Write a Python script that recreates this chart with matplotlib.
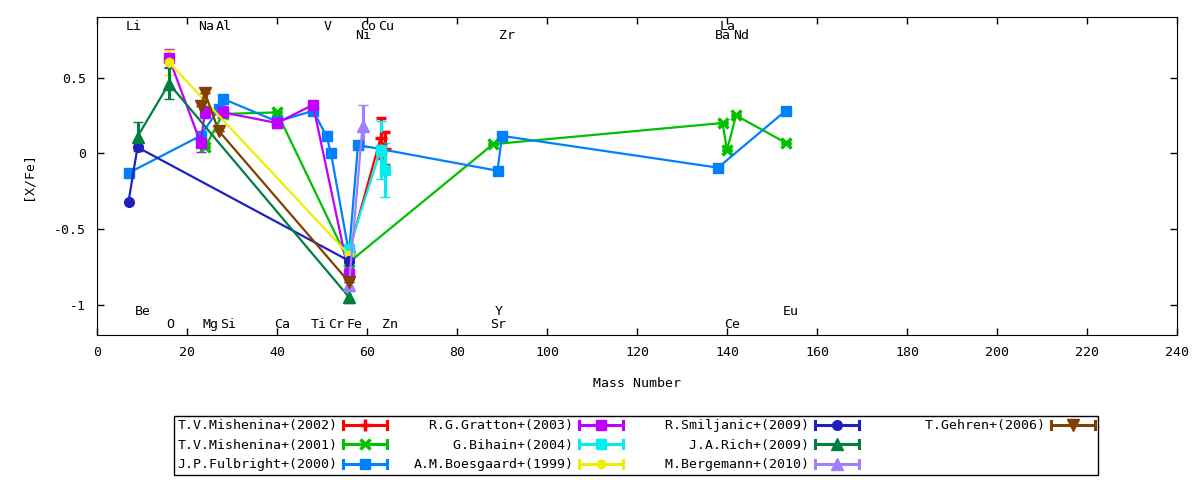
import numpy as np
import matplotlib.pyplot as plt
from matplotlib import ticker
from matplotlib.lines import Line2D
from matplotlib.legend_handler import HandlerBase

plt.rcParams['font.family'] = 'DejaVu Sans Mono'
plt.rcParams['font.size'] = 9.5
plt.rcParams['axes.unicode_minus'] = False

# element symbols and the mass number they are plotted at
elements = ['Li', 'Be', 'O', 'Na', 'Mg', 'Al', 'Si', 'Ca', 'Ti', 'V', 'Cr', 'Fe',
            'Ni', 'Co', 'Cu', 'Zn', 'Sr', 'Y', 'Zr', 'Ba', 'La', 'Ce', 'Nd', 'Eu']
mass_number = [7, 9, 16, 23, 24, 27, 28, 40, 48, 51, 52, 56,
               58, 59, 63, 64, 88, 89, 90, 138, 139, 140, 142, 153]

# [X/Fe] (and [Fe/H] at Fe) per study
mishenina02_el = ['Fe', 'Cu', 'Zn']
mishenina02_val = [-0.65, 0.10, 0.03]
mishenina02_err = [0.0, 0.13, 0.11]

mishenina01_el = ['Mg', 'Si', 'Ca', 'Fe', 'Sr', 'La', 'Ce', 'Nd', 'Eu']
mishenina01_val = [0.04, 0.26, 0.27, -0.72, 0.06, 0.20, 0.02, 0.25, 0.07]
mishenina01_err = [0, 0, 0, 0, 0, 0, 0, 0, 0]

fulbright_el = ['Li', 'Na', 'Al', 'Si', 'Ca', 'Ti', 'V', 'Cr', 'Fe', 'Ni', 'Y', 'Zr', 'Ba', 'Eu']
fulbright_val = [-0.13, 0.115, 0.29, 0.36, 0.21, 0.28, 0.115, 0.0, -0.66, 0.055,
                 -0.115, 0.115, -0.095, 0.28]
fulbright_err = [0, 0, 0, 0, 0, 0, 0, 0, 0, 0, 0, 0, 0, 0]

gratton_el = ['O', 'Na', 'Mg', 'Si', 'Ca', 'Ti', 'Fe']
gratton_val = [0.63, 0.07, 0.27, 0.27, 0.20, 0.32, -0.80]
gratton_err = [0.06, 0.06, 0.04, 0.04, 0.03, 0.02, 0.04]

bihain_el = ['Fe', 'Cu', 'Zn']
bihain_val = [-0.63, 0.02, -0.11]
bihain_err = [0.02, 0.19, 0.18]

boesgaard_el = ['O', 'Fe']
boesgaard_val = [0.60, -0.67]
boesgaard_err = [0.08, 0.0]

smiljanic_el = ['Li', 'Be', 'Fe']
smiljanic_val = [-0.32, 0.04, -0.71]
smiljanic_err = [0, 0, 0]

rich_el = ['Be', 'O', 'Fe']
rich_val = [0.11, 0.46, -0.95]
rich_err = [0.095, 0.10, 0.04]

bergemann_el = ['Fe', 'Co']
bergemann_val = [-0.87, 0.18]
bergemann_err = [0.03, 0.14]

gehren_el = ['Na', 'Mg', 'Al', 'Fe']
gehren_val = [0.31, 0.40, 0.15, -0.85]
gehren_err = [0, 0, 0, 0]

labels = ['T.V.Mishenina+(2002)', 'T.V.Mishenina+(2001)', 'J.P.Fulbright+(2000)',
          'R.G.Gratton+(2003)', 'G.Bihain+(2004)', 'A.M.Boesgaard+(1999)',
          'R.Smiljanic+(2009)', 'J.A.Rich+(2009)', 'M.Bergemann+(2010)',
          'T.Gehren+(2006)']

series = [
    (mishenina02_el, mishenina02_val, mishenina02_err),
    (mishenina01_el, mishenina01_val, mishenina01_err),
    (fulbright_el, fulbright_val, fulbright_err),
    (gratton_el, gratton_val, gratton_err),
    (bihain_el, bihain_val, bihain_err),
    (boesgaard_el, boesgaard_val, boesgaard_err),
    (smiljanic_el, smiljanic_val, smiljanic_err),
    (rich_el, rich_val, rich_err),
    (bergemann_el, bergemann_val, bergemann_err),
    (gehren_el, gehren_val, gehren_err),
]

colors = ['#ff0000', '#00c000', '#0080ff', '#c000ff', '#00eeee',
          '#eeee00', '#2020c0', '#008040', '#a080ff', '#804000']
markers = ['+', 'x', 's', 's', 's', 'o', 'o', '^', '^', 'v']
msizes = [9, 7, 7, 7, 7, 6, 7, 8, 8, 8]
mews = [2.5, 2.5, 1, 1, 1, 1, 1, 1, 1, 1]


class KeyHandler(HandlerBase):
    # gnuplot-like key sample: |--marker--|
    def create_artists(self, legend, orig_handle, xdescent, ydescent,
                       width, height, fontsize, trans):
        c = orig_handle.get_color()
        y = height / 2 - ydescent
        x0, x1 = -xdescent, width - xdescent
        h = 0.3 * fontsize
        bar = Line2D([x0, x1], [y, y], color=c, lw=2.2)
        caps = Line2D([x0, x0, np.nan, x1, x1], [y - h, y + h, np.nan, y - h, y + h],
                      color=c, lw=2.2)
        mk = Line2D([(x0 + x1) / 2], [y], ls='none', color=c,
                    marker=orig_handle.get_marker(), ms=orig_handle.get_markersize(),
                    mew=orig_handle.get_markeredgewidth())
        for a in (bar, caps, mk):
            a.set_transform(trans)
        return [bar, caps, mk]


fig = plt.figure(figsize=(12, 4.8), dpi=100)
ax = fig.add_axes([97 / 1200, 1 - 335 / 480, 1080 / 1200, 318 / 480])

handles = []
for (els, vals, errs), lab, c, m, ms, mew in zip(series, labels, colors, markers, msizes, mews):
    x = [mass_number[elements.index(e)] for e in els]
    cont = ax.errorbar(x, vals, yerr=errs, color=c, lw=1.6, marker=m, ms=ms, mew=mew,
                       elinewidth=2.2, capsize=3.5, capthick=2.2, label=lab)
    handles.append(cont[0])

# element names along the top and bottom of the frame
top_hi = ['Li', 'Na', 'Al', 'V', 'Co', 'Cu', 'La']
top_lo = ['Ni', 'Zr', 'Ba', 'Nd']
bot_hi = ['Be', 'Y', 'Eu']
for el, m in zip(elements, mass_number):
    if el in top_hi:
        yl = 0.835
    elif el in top_lo:
        yl = 0.778
    elif el in bot_hi:
        yl = -1.048
    else:
        yl = -1.128
    ax.text(m - 0.6, yl, el, ha='left', va='center')

ax.set_xlim(0, 240)
ax.set_ylim(-1.2, 0.9)
ax.xaxis.set_major_locator(ticker.MultipleLocator(20))
ax.set_yticks([-1, -0.5, 0, 0.5])
ax.yaxis.set_major_formatter(ticker.FormatStrFormatter('%g'))
ax.tick_params(direction='in', top=True, right=True, length=5, width=1, pad=8)
ax.set_xlabel('Mass Number', labelpad=13)
ax.set_ylabel('[X/Fe]', labelpad=14)

# right-aligned key entries in equal-width columns (3 rows x 4), like gnuplot;
# two empty slots fill the last column
blank = Line2D([], [], color='none')
key_handles = handles + [blank, blank]
key_labels = [l.rjust(20) for l in labels] + ['', '']
leg = fig.legend(key_handles, key_labels, handler_map={Line2D: KeyHandler()},
                 loc='upper center', bbox_to_anchor=(0.53, 1 - 416 / 480), ncol=4,
                 markerfirst=False, frameon=True, fancybox=False, edgecolor='black',
                 framealpha=1, borderpad=0.25, labelspacing=0.5, handlelength=3.3,
                 handletextpad=0.45, columnspacing=2.0, borderaxespad=0)
leg.get_frame().set_linewidth(1)

fig.savefig('out.png', dpi=100)
